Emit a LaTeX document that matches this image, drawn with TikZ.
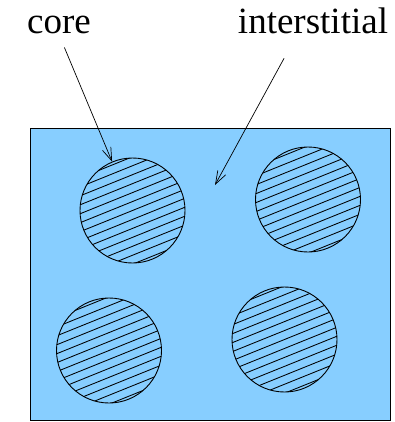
\documentclass[tikz,border=0pt]{standalone}
\usepackage{fontspec}
\setmainfont{Liberation Serif}
\usepackage{tikz}
\usetikzlibrary{arrows.meta,positioning}
\definecolor{bleuCiel}{RGB}{135,206,255}

\begin{document}
\begin{tikzpicture}[x=1pt,y=-1pt,
			label/.style={anchor=base, inner sep=0pt, font=\fontsize{37}{40}\selectfont},
			matrixbox/.style={draw=black, fill=bleuCiel, line width=0.9pt},
			disk/.style={circle, draw=black, line width=0.9pt, minimum size=105pt, inner sep=0pt},
			hatch/.style={line width=0.85pt},
			arrow/.style={-{Straight Barb[length=13pt,width=9pt]}, line width=0.7pt}
			]
			\useasboundingbox (0,0) rectangle (395,422);
			\draw[matrixbox] (30,128) rectangle (390,420);
			
			\foreach \n/\x/\y in {c1/132.5/210.5, c2/308/199.5, c3/109/350.5, c4/284.5/339.5} {
				\begin{scope}
					\clip (\x,\y) circle (52.5pt);
					\foreach \k in {-7,...,7}
						\draw[hatch, rotate around={22:(\x,\y)}] (\x-70,\y+\k*8.3) -- (\x+70,\y+\k*8.3);
				\end{scope}
				\node[disk] (\n) at (\x,\y) {};
			}
			
			\node[label] (core) at (59,34) {core};
			\node[label] (inter) at (313,34) {interstitial};
			\coordinate (gap) at (215,185);
			
			\draw[arrow, shorten <=14pt] (core.south) -- (c1);
			\draw[arrow, shorten <=27pt] ([xshift=-16pt]inter.south) -- (gap);
		\end{tikzpicture}
\end{document}
